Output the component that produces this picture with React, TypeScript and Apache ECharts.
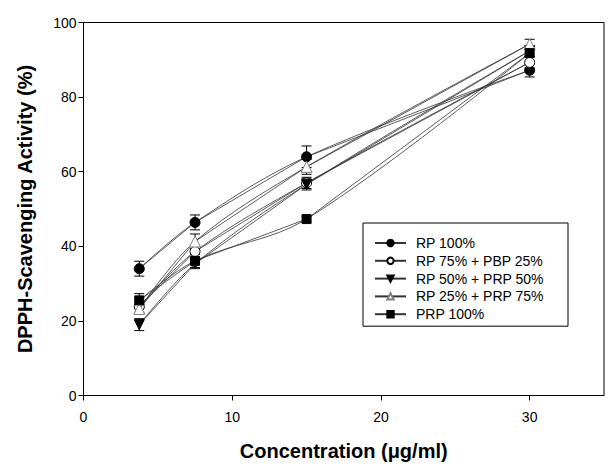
import React, { useEffect, useRef } from "react";
import * as echarts from "echarts";

const concentrations = [3.75, 7.5, 15, 30];
const seriesNames = [
  "RP 100%",
  "RP 75% + PBP 25%",
  "RP 50% + PRP 50%",
  "RP 25% + PRP 75%",
  "PRP 100%",
];
const rp100 = [34.0, 46.4, 64.0, 87.2];
const rp100Err = [2.0, 2.0, 2.9, 1.8];
const rp75pbp25 = [23.8, 38.6, 57.0, 89.3];
const rp75pbp25Err = [1.5, 1.5, 1.5, 1.5];
const rp50prp50 = [19.0, 35.3, 56.6, 92.4];
const rp50prp50Err = [1.6, 1.3, 1.5, 1.4];
const rp25prp75 = [23.2, 41.3, 61.3, 94.2];
const rp25prp75Err = [1.2, 2.0, 2.0, 1.3];
const prp100 = [25.5, 36.1, 47.3, 91.8];
const prp100Err = [1.8, 1.8, 0.8, 1.0];
const xTicks = [0, 10, 20, 30];
const yTicks = [0, 20, 40, 60, 80, 100];

const FONT = "Arial, 'Liberation Sans', sans-serif";

export default function App() {
  const ref = useRef<HTMLDivElement>(null);
  useEffect(() => {
    if (!ref.current) return;
    const chart = echarts.init(ref.current, undefined, { renderer: "svg" });
    const values = [rp100, rp75pbp25, rp50prp50, rp25prp75, prp100];
    const errs = [rp100Err, rp75pbp25Err, rp50prp50Err, rp25prp75Err, prp100Err];
    const styles = [
      { symbol: "circle", size: 10, rotate: 0, fill: "#000", stroke: "#000" },
      { symbol: "circle", size: 10, rotate: 0, fill: "#fff", stroke: "#000" },
      { symbol: "triangle", size: 10, rotate: 180, fill: "#000", stroke: "#000" },
      { symbol: "triangle", size: 11, rotate: 0, fill: "#fff", stroke: "#808080" },
      { symbol: "rect", size: 9, rotate: 0, fill: "#000", stroke: "#000" },
    ];
    const lineStyle = { color: "#333", width: 0.8 };
    const series: any[] = [];
    values.forEach((vals, i) => {
      const data = concentrations.map((x, j) => [x, vals[j]]);
      series.push({
        name: seriesNames[i] + " fit",
        type: "line",
        data,
        smooth: 0.35,
        symbol: "none",
        lineStyle,
        z: 2,
        silent: true,
      });
      series.push({
        name: seriesNames[i] + " err",
        type: "custom",
        data: concentrations.map((x, j) => [x, vals[j], errs[i][j]]),
        encode: { x: 0, y: 1 },
        z: 3,
        renderItem: (params: any, api: any) => {
          const x = api.value(0);
          const y = api.value(1);
          const e = api.value(2);
          const top = api.coord([x, y + e]);
          const bot = api.coord([x, y - e]);
          const hw = 5;
          const st = { stroke: "#000", lineWidth: 1 };
          return {
            type: "group",
            children: [
              { type: "line", shape: { x1: top[0], y1: top[1], x2: bot[0], y2: bot[1] }, style: st },
              { type: "line", shape: { x1: top[0] - hw, y1: top[1], x2: top[0] + hw, y2: top[1] }, style: st },
              { type: "line", shape: { x1: bot[0] - hw, y1: bot[1], x2: bot[0] + hw, y2: bot[1] }, style: st },
            ],
          };
        },
      });
      const s = styles[i];
      series.push({
        name: seriesNames[i],
        type: "line",
        data,
        symbol: s.symbol,
        symbolSize: s.size,
        symbolRotate: s.rotate,
        showSymbol: true,
        itemStyle: { color: s.fill, borderColor: s.stroke, borderWidth: 1, opacity: 1 },
        lineStyle,
        z: 4 + i * 0.1,
      });
    });

    chart.setOption({
      animation: false,
      backgroundColor: "#fff",
      textStyle: { fontFamily: FONT },
      grid: {
        left: 83.5,
        top: 22.5,
        right: 10,
        bottom: 74.5,
        show: true,
        borderColor: "#000",
        borderWidth: 1,
        backgroundColor: "transparent",
      },
      legend: {
        data: seriesNames,
        orient: "vertical",
        left: 363,
        top: 223,
        padding: [13, 24, 5, 11],
        itemWidth: 31,
        itemHeight: 8,
        itemGap: 3.8,
        borderColor: "#000",
        borderWidth: 1,
        backgroundColor: "#fff",
        textStyle: { fontFamily: FONT, fontSize: 14, color: "#000", padding: [0, 0, 0, 5] },
      },
      xAxis: {
        type: "value",
        min: 0,
        max: 35,
        interval: 10,
        name: "Concentration (\u03bcg/ml)",
        nameLocation: "middle",
        nameGap: 45,
        nameTextStyle: { fontFamily: FONT, fontSize: 20, fontWeight: "bold", color: "#000" },
        axisLine: { show: true, onZero: false, lineStyle: { color: "#000", width: 1 } },
        axisTick: { show: true, inside: false, length: 5, lineStyle: { color: "#000" } },
        axisLabel: {
          fontFamily: FONT,
          fontSize: 14,
          color: "#000",
          margin: 14,
          showMaxLabel: false,
          formatter: (v: number) => (xTicks.includes(v) ? String(v) : ""),
        },
        splitLine: { show: false },
      },
      yAxis: {
        type: "value",
        min: 0,
        max: 100,
        interval: 20,
        name: "DPPH-Scavenging Activity (%)",
        nameLocation: "middle",
        nameGap: 49,
        nameTextStyle: { fontFamily: FONT, fontSize: 20, fontWeight: "bold", color: "#000" },
        axisLine: { show: true, onZero: false, lineStyle: { color: "#000", width: 1 } },
        axisTick: { show: true, inside: false, length: 5, lineStyle: { color: "#000" } },
        axisLabel: {
          fontFamily: FONT,
          fontSize: 14,
          color: "#000",
          margin: 7,
          formatter: (v: number) => (yTicks.includes(v) ? String(v) : ""),
        },
        splitLine: { show: false },
      },
      series,
    });
    return () => chart.dispose();
  }, []);
  return (
    <div
      ref={ref}
      style={{ position: "fixed", left: 0, top: 0, width: 614, height: 470, background: "#fff" }}
    />
  );
}
